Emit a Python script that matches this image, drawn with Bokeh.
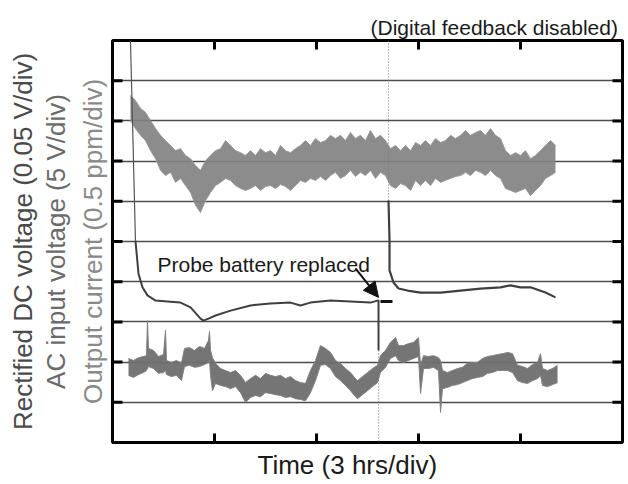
from bokeh.plotting import figure
from bokeh.models import Range1d, FixedTicker, Label, Arrow, NormalHead, Title
from bokeh.embed import file_html
from bokeh.resources import INLINE

# ---- data (x in time divisions of 3 h, y in vertical divisions) ----
X_RANGE = (0, 5)
Y_RANGE = (0, 10)
X_TICKS = [1, 2, 3, 4]
Y_TICKS = [1, 2, 3, 4, 5, 6, 7, 8, 9]
X_TICK_LEN = 0.224   # inward tick length in y-divisions
Y_TICK_LEN = 0.098   # inward tick length in x-divisions

# Top noisy trace (envelope)
T_X = [0.176, 0.225, 0.275, 0.324, 0.373, 0.422, 0.471, 0.520, 0.569, 0.618, 0.667, 0.716,
       0.765, 0.814, 0.863, 0.912, 0.961, 1.010, 1.059, 1.108, 1.157, 1.206, 1.255, 1.304,
       1.353, 1.402, 1.451, 1.500, 1.549, 1.598, 1.647, 1.696, 1.745, 1.794, 1.843, 1.892,
       1.941, 1.990, 2.039, 2.088, 2.137, 2.186, 2.235, 2.284, 2.333, 2.382, 2.431, 2.480,
       2.529, 2.578, 2.627, 2.676, 2.725, 2.775, 2.824, 2.873, 2.922, 2.971, 3.020, 3.069,
       3.118, 3.167, 3.216, 3.265, 3.314, 3.363, 3.412, 3.461, 3.510, 3.559, 3.608, 3.657,
       3.706, 3.755, 3.804, 3.853, 3.902, 3.951, 4.000, 4.049, 4.098, 4.147, 4.196, 4.245,
       4.294, 4.343]
T_HI = [8.63, 8.51, 8.31, 8.21, 8.01, 7.81, 7.64, 7.51, 7.39, 7.26, 7.31, 7.14,
        7.06, 6.89, 6.77, 7.01, 7.14, 7.26, 7.31, 7.51, 7.39, 7.26, 7.21, 7.14,
        7.26, 7.14, 7.31, 7.21, 7.26, 7.14, 7.39, 7.26, 7.21, 7.31, 7.39, 7.51,
        7.39, 7.56, 7.46, 7.51, 7.64, 7.56, 7.64, 7.51, 7.71, 7.56, 7.64, 7.51,
        7.76, 7.56, 7.64, 7.51, 7.31, 7.39, 7.26, 7.39, 7.26, 7.46, 7.39, 7.51,
        7.39, 7.56, 7.46, 7.51, 7.64, 7.56, 7.64, 7.76, 7.64, 7.71, 7.76, 7.64,
        7.81, 7.64, 7.56, 7.26, 7.14, 7.21, 7.14, 7.26, 7.06, 7.14, 7.26, 7.39,
        7.51, 7.39]
T_LO = [8.01, 7.81, 7.64, 7.51, 7.26, 7.06, 6.77, 6.64, 6.72, 6.47, 6.57, 6.39,
        6.22, 5.90, 5.72, 6.02, 6.22, 6.39, 6.47, 6.57, 6.52, 6.39, 6.32, 6.27,
        6.32, 6.39, 6.27, 6.37, 6.39, 6.32, 6.42, 6.37, 6.27, 6.39, 6.52, 6.47,
        6.57, 6.52, 6.62, 6.52, 6.64, 6.72, 6.57, 6.64, 6.77, 6.62, 6.72, 6.64,
        6.77, 6.57, 6.72, 6.64, 6.39, 6.32, 6.44, 6.39, 6.27, 6.52, 6.39, 6.52,
        6.39, 6.57, 6.47, 6.52, 6.57, 6.62, 6.64, 6.72, 6.64, 6.77, 6.72, 6.64,
        6.77, 6.64, 6.57, 6.32, 6.27, 6.22, 6.27, 6.32, 6.14, 6.27, 6.39, 6.57,
        6.64, 6.72]

# Middle trace, first run (steep start, then level) and second run
M1_STEEP_X = [0.176, 0.196, 0.225]
M1_STEEP_Y = [10.0, 8.01, 5.02]
M1_X = [0.225, 0.255, 0.294, 0.343, 0.422, 0.539, 0.667, 0.765, 0.863, 0.892, 0.941,
        1.010, 1.157, 1.353, 1.549, 1.745, 1.843, 1.941, 2.137, 2.333, 2.529, 2.598,
        2.608, 2.608]
M1_Y = [5.02, 4.20, 3.86, 3.66, 3.53, 3.51, 3.48, 3.36, 3.08, 3.03, 3.08,
        3.16, 3.28, 3.41, 3.46, 3.48, 3.41, 3.48, 3.53, 3.51, 3.48, 3.53,
        3.53, 2.29]
M1_TAIL_X = [2.608, 2.608]
M1_TAIL_Y = [2.29, 0.0]
M2_HEAD_X = [2.706, 2.706]
M2_HEAD_Y = [10.0, 6.02]
M2_X = [2.706, 2.716, 2.716, 2.755, 2.804, 2.892, 3.020, 3.216, 3.412, 3.608, 3.804,
        3.902, 4.000, 4.098, 4.245, 4.343]
M2_Y = [6.02, 5.02, 4.28, 3.98, 3.83, 3.78, 3.73, 3.73, 3.78, 3.83, 3.86,
        3.91, 3.86, 3.86, 3.73, 3.61]

# Bottom noisy trace (envelope)
B_X = [0.157, 0.206, 0.255, 0.304, 0.333, 0.343, 0.353, 0.402, 0.451, 0.500, 0.520, 0.529,
       0.578, 0.627, 0.676, 0.706, 0.755, 0.804, 0.853, 0.902, 0.941, 0.951, 0.961, 0.980,
       1.010, 1.059, 1.108, 1.157, 1.206, 1.255, 1.304, 1.353, 1.402, 1.451, 1.500, 1.549,
       1.598, 1.647, 1.696, 1.745, 1.794, 1.843, 1.892, 1.941, 1.990, 2.039, 2.088, 2.137,
       2.186, 2.235, 2.284, 2.333, 2.382, 2.402, 2.451, 2.500, 2.549, 2.598, 2.627, 2.676,
       2.725, 2.775, 2.804, 2.853, 2.902, 2.951, 3.000, 3.020, 3.049, 3.098, 3.147, 3.196,
       3.216, 3.235, 3.284, 3.333, 3.382, 3.431, 3.480, 3.529, 3.578, 3.627, 3.676, 3.725,
       3.775, 3.824, 3.873, 3.922, 3.971, 4.020, 4.069, 4.118, 4.167, 4.196, 4.216, 4.265,
       4.314, 4.363]
B_HI = [2.09, 2.04, 2.11, 2.14, 2.16, 3.03, 2.34, 2.29, 2.14, 2.19, 2.79, 2.04,
        1.99, 2.04, 1.97, 2.34, 2.36, 2.29, 2.39, 2.34, 2.54, 2.76, 2.29, 2.11,
        1.97, 1.84, 1.79, 1.74, 1.79, 1.67, 1.49, 1.59, 1.67, 1.59, 1.72, 1.67,
        1.64, 1.67, 1.59, 1.64, 1.54, 1.49, 1.47, 1.79, 2.04, 2.41, 2.34, 2.24,
        2.04, 1.97, 1.84, 1.74, 1.59, 1.54, 1.64, 1.74, 1.84, 1.92, 2.16, 2.29,
        2.49, 2.61, 2.41, 2.41, 2.46, 2.49, 2.61, 1.92, 2.16, 2.14, 2.16, 2.11,
        2.04, 1.79, 1.74, 1.79, 1.84, 1.87, 1.97, 1.99, 1.99, 2.09, 2.14, 2.16,
        2.19, 2.21, 2.24, 2.21, 1.92, 1.89, 1.84, 1.94, 1.99, 2.21, 1.84, 1.79,
        1.84, 1.92]
B_LO = [1.67, 1.62, 1.69, 1.74, 1.79, 1.84, 1.89, 1.84, 1.72, 1.74, 1.79, 1.69,
        1.64, 1.67, 1.54, 1.89, 1.92, 1.87, 1.89, 1.94, 1.99, 2.04, 1.67, 1.29,
        1.47, 1.42, 1.39, 1.34, 1.39, 1.24, 1.00, 1.12, 1.17, 1.14, 1.24, 1.22,
        1.19, 1.17, 1.12, 1.14, 1.09, 1.07, 1.04, 1.24, 1.54, 1.92, 1.94, 1.84,
        1.64, 1.54, 1.42, 1.29, 1.14, 1.09, 1.19, 1.29, 1.39, 1.49, 1.74, 1.87,
        2.09, 2.16, 2.04, 1.99, 2.04, 2.09, 2.14, 1.22, 1.84, 1.84, 1.87, 1.79,
        0.75, 1.34, 1.37, 1.42, 1.44, 1.49, 1.54, 1.59, 1.62, 1.64, 1.72, 1.74,
        1.79, 1.79, 1.79, 1.74, 1.54, 1.49, 1.47, 1.54, 1.59, 1.67, 1.42, 1.39,
        1.44, 1.49]

# Annotation anchors (data units)
ARROW_START = (2.382, 4.33)
ARROW_END = (2.608, 3.61)
MARK_X = [2.627, 2.745]
MARK_Y = [3.51, 3.51]

FONT = "Liberation Sans"

p = figure(width=628, height=484, output_backend="svg", toolbar_location=None,
           x_range=Range1d(*X_RANGE), y_range=Range1d(*Y_RANGE),
           min_border_left=112, min_border_right=6, min_border_top=40, min_border_bottom=42)
p.background_fill_color = "white"
p.border_fill_color = "white"
p.outline_line_color = "black"
p.outline_line_width = 3
p.xaxis.visible = False
p.yaxis.visible = False

p.xgrid.visible = False
p.ygrid.ticker = FixedTicker(ticks=Y_TICKS)
p.ygrid.grid_line_color = "#4d4d4d"
p.ygrid.grid_line_width = 1.4

# inward ticks on all four sides
n_x = len(X_TICKS)
n_y = len(Y_TICKS)
p.segment(x0=X_TICKS * 2, x1=X_TICKS * 2,
          y0=[Y_RANGE[0]] * n_x + [Y_RANGE[1]] * n_x,
          y1=[Y_RANGE[0] + X_TICK_LEN] * n_x + [Y_RANGE[1] - X_TICK_LEN] * n_x,
          line_color="black", line_width=3)
p.segment(y0=Y_TICKS * 2, y1=Y_TICKS * 2,
          x0=[X_RANGE[0]] * n_y + [X_RANGE[1]] * n_y,
          x1=[X_RANGE[0] + Y_TICK_LEN] * n_y + [X_RANGE[1] - Y_TICK_LEN] * n_y,
          line_color="black", line_width=3)

# traces
p.varea(x=T_X, y1=T_LO, y2=T_HI, fill_color="#828282", fill_alpha=0.92)
p.line(T_X, T_HI, line_color="#999999", line_width=1)
p.line(T_X, T_LO, line_color="#999999", line_width=1)

p.varea(x=B_X, y1=B_LO, y2=B_HI, fill_color="#6e6e6e", fill_alpha=0.95)
p.line(B_X, B_HI, line_color="#808080", line_width=1)
p.line(B_X, B_LO, line_color="#808080", line_width=1)

p.line(M1_STEEP_X, M1_STEEP_Y, line_color="#555555", line_width=1.2)
p.line(M1_X, M1_Y, line_color="#3f3f3f", line_width=2)
p.line(M1_TAIL_X, M1_TAIL_Y, line_color="#777777", line_width=1, line_dash="1 2")
p.line(M2_HEAD_X, M2_HEAD_Y, line_color="#777777", line_width=1, line_dash="1 2")
p.line(M2_X, M2_Y, line_color="#3f3f3f", line_width=2.2)

# annotations
p.add_layout(Arrow(end=NormalHead(size=15, fill_color="#111111", line_color="#111111"),
                   x_start=ARROW_START[0], y_start=ARROW_START[1],
                   x_end=ARROW_END[0], y_end=ARROW_END[1],
                   line_width=2, line_color="#111111"))
p.line(MARK_X, MARK_Y, line_color="#111111", line_width=3)

p.add_layout(Label(x=0.441, y=4.43, text="Probe battery replaced", text_font=FONT,
                   text_font_size="21px", text_color="#1a1a1a", text_baseline="alphabetic",
                   text_align="left"))

# texts outside the frame as titles
p.add_layout(Title(text="(Digital feedback disabled)", text_font=FONT, text_font_size="21px",
                   text_font_style="normal", text_color="#1a1a1a", align="left",
                   offset=258, standoff=3), "above")
p.add_layout(Title(text="Time (3 hrs/div)", text_font=FONT, text_font_size="26px",
                   text_font_style="normal", text_color="#1a1a1a", align="left",
                   offset=145, standoff=10), "below")

Y_LABELS = ["Output current (0.5 ppm/div)", "AC input voltage (5 V/div)",
            "Rectified DC voltage (0.05 V/div)"]
Y_LABEL_COLORS = ["#8a8a8a", "#6a6a6a", "#4a4a4a"]
Y_STANDOFF = [9, 1, 1]
for t, c, s in zip(Y_LABELS, Y_LABEL_COLORS, Y_STANDOFF):
    p.add_layout(Title(text=t, text_font=FONT, text_font_size="26px", text_font_style="normal",
                       text_color=c, align="center", standoff=s), "left")

open("out.html", "w").write(file_html(p, INLINE))
